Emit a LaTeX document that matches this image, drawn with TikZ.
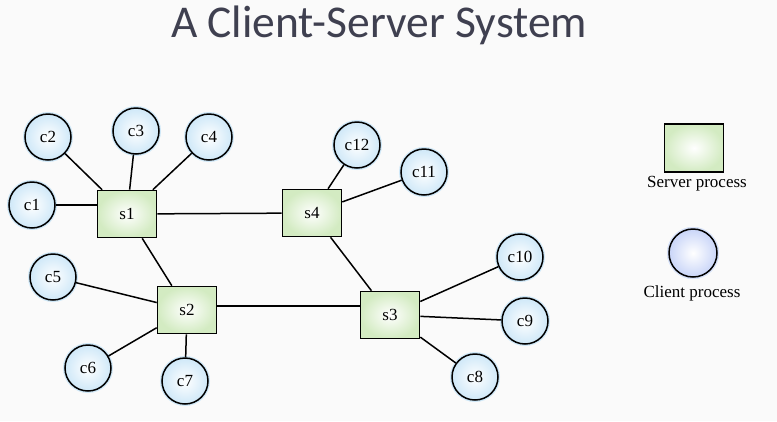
\documentclass[tikz,border=0pt]{standalone}
\usepackage{fontspec}
\setmainfont{Liberation Serif}
\newfontfamily\titlefont{Carlito}
\definecolor{titlegray}{HTML}{3F4050}
\definecolor{clientblue}{HTML}{CFE8F8}
\definecolor{legendblue}{HTML}{C9D5F8}
\definecolor{servergreen}{HTML}{D3EBC2}
\begin{document}
\begin{tikzpicture}[x=1pt, y=-1pt,
  client/.style={circle, draw=black, line width=1.5pt, minimum size=46pt, inner sep=0pt,
    preaction={draw=clientblue, line width=4pt},
    inner color=white, outer color=clientblue, font=\fontsize{17}{17}\selectfont},
  server/.style={rectangle, draw=black, line width=1.6pt, minimum width=59pt, minimum height=47pt,
    inner color=white, outer color=servergreen, font=\fontsize{17}{17}\selectfont},
  link/.style={line width=1.5pt},
  thicklink/.style={line width=2.6pt}]
% Canvas (fixed to the 777x421 frame)
\useasboundingbox (0,0) rectangle (777,421);
\fill[gray!4] (0,0) rectangle (777,421);

% Title
\node (title) at (379,25) [font=\titlefont\fontsize{45.5}{45.5}\selectfont, text=titlegray] {A Client-Server System};

% Servers
\node[server] (s1) at (127,214) {s1};
\node[server] (s2) at (187,310) {s2};
\node[server] (s3) at (390,315) {s3};
\node[server] (s4) at (312,213) {s4};

% Clients
\node[client] (c1) at (32,205) {c1};
\node[client] (c2) at (48,137) {c2};
\node[client] (c3) at (136,131) {c3};
\node[client] (c4) at (209,137) {c4};
\node[client] (c5) at (53,277) {c5};
\node[client] (c6) at (88,368) {c6};
\node[client] (c7) at (185,381) {c7};
\node[client] (c8) at (475,377) {c8};
\node[client] (c9) at (525,321) {c9};
\node[client] (c10) at (520,257) {c10};
\node[client] (c11) at (424,172) {c11};
\node[client] (c12) at (357,145) {c12};

% Server links
\draw[link] (s1) -- (s4);
\draw[link] (s1) -- (s2);
\draw[link] (s4) -- (s3);
\draw[thicklink] ([yshift=4pt]s2.east) -- ([yshift=9pt]s3.west);

% Client links
\draw[thicklink] (c1) -- (c1 -| s1.west);
\draw[link] (c2) -- (s1);
\draw[link] (c3) -- (s1);
\draw[link] (c4) -- (s1);
\draw[link] (c5) -- (s2);
\draw[link] (c6) -- (s2);
\draw[link] (c7) -- (s2);
\draw[link] (c8) -- (s3);
\draw[link] (c9) -- (s3);
\draw[link] (c10) -- (s3);
\draw[link] (c11) -- (s4);
\draw[link] (c12) -- (s4);

% Legend
\node[server, minimum width=59pt, minimum height=48pt] (keyserver) at (694,148) {};
\node (keyservertext) at (697,184) [font=\fontsize{17}{17}\selectfont] {Server process};
\node[client, minimum size=48pt, outer color=legendblue, preaction={draw=legendblue!70, line width=4pt}] (keyclient) at (693,253) {};
\node (keyclienttext) at (692,293) [font=\fontsize{17}{17}\selectfont] {Client process};
\end{tikzpicture}
\end{document}
